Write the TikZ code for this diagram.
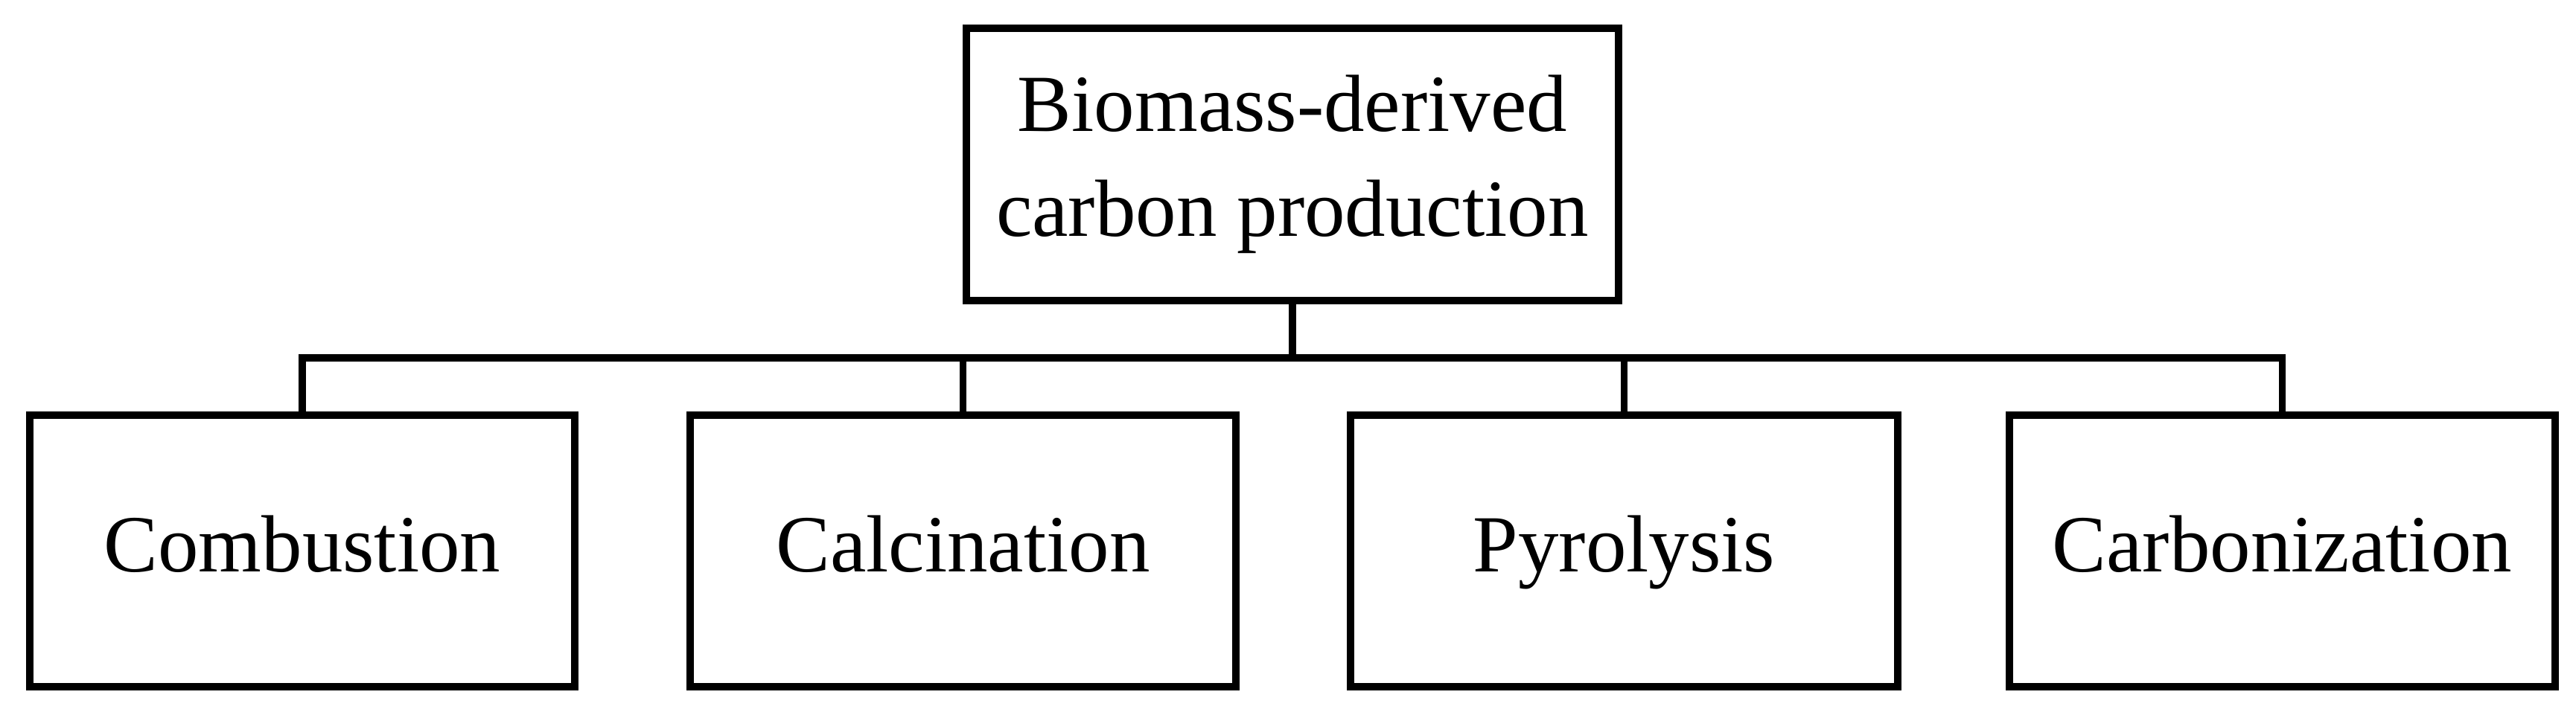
\documentclass[tikz,border=0pt]{standalone}
\usepackage{fontspec}
\setmainfont{Liberation Serif}
\begin{document}
\begin{tikzpicture}[
  box/.style={draw,line width=2.6pt,inner sep=0pt,font=\fontsize{31}{40}\selectfont,align=center},
  lone/.style={text height=0.78cm,text depth=0.22cm},
  conn/.style={line width=2.6pt}]
\useasboundingbox (0,0) rectangle (34.6,9.6);
\node[box,minimum width=8.76cm,minimum height=3.66cm] (top) at (17.36,7.39) {Biomass-derived\\carbon production};
\node[box,lone,minimum width=7.32cm,minimum height=3.65cm] (a) at (4.06,2.195) {Combustion};
\node[box,lone,minimum width=7.33cm,minimum height=3.65cm] (b) at (12.935,2.195) {Calcination};
\node[box,lone,minimum width=7.35cm,minimum height=3.65cm] (c) at (21.815,2.195) {Pyrolysis};
\node[box,lone,minimum width=7.33cm,minimum height=3.65cm] (d) at (30.655,2.195) {Carbonization};
\coordinate (hub) at (17.36,4.79);
\draw[conn] (top.south) -- (hub);
\draw[conn] (a.north) |- (hub) -| (d.north);
\draw[conn] (b.north) -- (b.north |- hub);
\draw[conn] (c.north) -- (c.north |- hub);
\end{tikzpicture}
\end{document}
